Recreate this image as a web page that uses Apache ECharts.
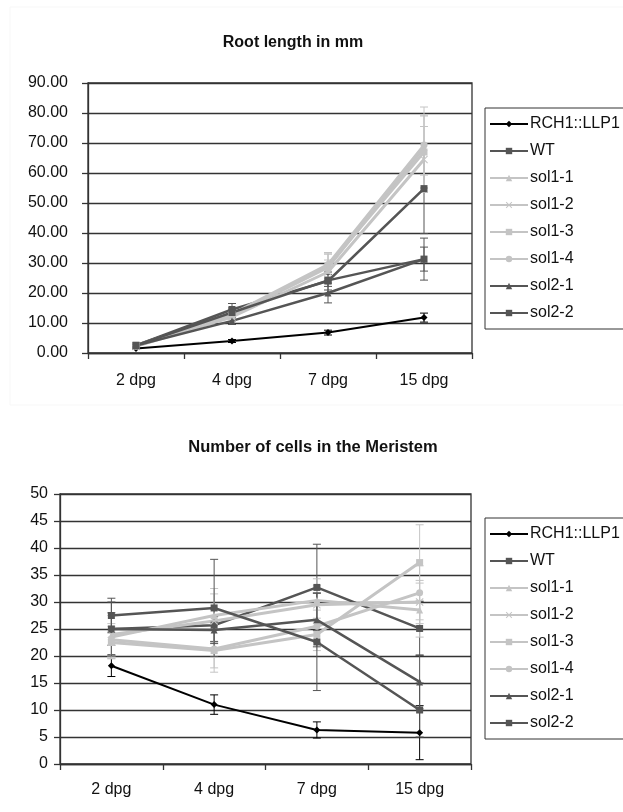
<!DOCTYPE html>
<html>
<head>
<meta charset="utf-8">
<script src="https://cdn.jsdelivr.net/npm/echarts@6/dist/echarts.min.js"></script>
<style>
html,body{margin:0;padding:0;background:#fff;}
#c{width:623px;height:812px;}
</style>
</head>
<body>
<div id="c"></div>
<script>
// ---------- data ----------
const categories = ['2 dpg', '4 dpg', '7 dpg', '15 dpg'];
const seriesNames = ['RCH1::LLP1', 'WT', 'sol1-1', 'sol1-2', 'sol1-3', 'sol1-4', 'sol2-1', 'sol2-2'];

// Root length in mm
const rootRCH1 = [1.5, 4.0, 6.8, 11.8];
const rootWT   = [2.5, 14.5, 24.0, 54.8];
const rootSol11 = [2.3, 12.5, 28.5, 68.5];
const rootSol12 = [2.2, 12.0, 27.0, 64.5];
const rootSol13 = [2.4, 12.8, 29.0, 67.0];
const rootSol14 = [2.4, 13.0, 29.5, 69.3];
const rootSol21 = [2.5, 10.7, 20.0, 31.3];
const rootSol22 = [2.6, 13.5, 24.2, 31.3];
const rootErrRCH1 = [0.3, 0.5, 0.8, 1.5];
const rootErrWT   = [0.5, 2.0, 3.0, 15.0];
const rootErrSol11 = [0.5, 1.5, 4.5, 13.5];
const rootErrSol12 = [0.5, 1.5, 4.0, 11.0];
const rootErrSol13 = [0.5, 1.5, 4.0, 12.0];
const rootErrSol14 = [0.5, 1.5, 4.0, 10.0];
const rootErrSol21 = [0.5, 1.2, 3.3, 4.0];
const rootErrSol22 = [0.5, 1.5, 2.0, 7.0];

// Number of cells in the Meristem
const cellRCH1 = [18.2, 11.0, 6.3, 5.8];
const cellWT   = [25.0, 25.7, 32.7, 25.1];
const cellSol11 = [23.5, 27.5, 30.3, 28.5];
const cellSol12 = [24.0, 26.5, 29.5, 30.0];
const cellSol13 = [22.5, 21.0, 24.0, 37.3];
const cellSol14 = [23.0, 21.3, 25.5, 31.7];
const cellSol21 = [25.0, 24.8, 26.7, 15.2];
const cellSol22 = [27.5, 28.9, 22.6, 10.0];
const cellErrRCH1 = [2.0, 1.8, 1.5, 5.0];
const cellErrWT   = [3.0, 3.0, 8.0, 5.0];
const cellErrSol11 = [4.0, 5.0, 4.0, 5.0];
const cellErrSol12 = [4.0, 5.0, 3.5, 4.0];
const cellErrSol13 = [3.0, 4.0, 3.0, 7.0];
const cellErrSol14 = [3.0, 3.5, 3.0, 5.0];
const cellErrSol21 = [5.0, 2.5, 5.0, 5.0];
const cellErrSol22 = [3.2, 9.0, 9.0, 5.0];

// tick labels
const rootTicks = [0, 90, 10];
const cellTicks = [0, 50, 5];

// ---------- styles ----------
const FONT = '"Liberation Sans", Arial, sans-serif';
const DARK = '#555555';
const LIGHT = '#c4c4c4';
const styles = [
  {color: '#000000', symbol: 'diamond', size: 7, width: 2},
  {color: DARK, symbol: 'rect', size: 7, width: 2.5},
  {color: LIGHT, symbol: 'triangle', size: 7, width: 3},
  {color: LIGHT, symbol: 'path://M0,1L1,0L5,4L9,0L10,1L6,5L10,9L9,10L5,6L1,10L0,9L4,5Z', size: 8, width: 3},
  {color: LIGHT, symbol: 'rect', size: 7, width: 3},
  {color: LIGHT, symbol: 'circle', size: 7, width: 3},
  {color: DARK, symbol: 'triangle', size: 7, width: 2.5},
  {color: DARK, symbol: 'rect', size: 7, width: 2.5}
];

const rootVals = [rootRCH1, rootWT, rootSol11, rootSol12, rootSol13, rootSol14, rootSol21, rootSol22];
const rootErrs = [rootErrRCH1, rootErrWT, rootErrSol11, rootErrSol12, rootErrSol13, rootErrSol14, rootErrSol21, rootErrSol22];
const cellVals = [cellRCH1, cellWT, cellSol11, cellSol12, cellSol13, cellSol14, cellSol21, cellSol22];
const cellErrs = [cellErrRCH1, cellErrWT, cellErrSol11, cellErrSol12, cellErrSol13, cellErrSol14, cellErrSol21, cellErrSol22];

function errSeries(name, vals, errs, color, gi) {
  return {
    type: 'custom', name: name + ' err', xAxisIndex: gi, yAxisIndex: gi, z: 1,
    silent: true,
    data: vals.map((v, i) => [i, v, errs[i]]),
    renderItem: function (params, api) {
      const x = api.value(0), y = api.value(1), e = api.value(2);
      const t = api.coord([x, y + e]);
      const b = api.coord([x, y - e]);
      const hw = 4;
      const st = {stroke: color, lineWidth: 1};
      return {type: 'group', children: [
        {type: 'line', shape: {x1: t[0], y1: t[1], x2: b[0], y2: b[1]}, style: st},
        {type: 'line', shape: {x1: t[0] - hw, y1: t[1], x2: t[0] + hw, y2: t[1]}, style: st},
        {type: 'line', shape: {x1: b[0] - hw, y1: b[1], x2: b[0] + hw, y2: b[1]}, style: st}
      ]};
    }
  };
}

function lineSeries(name, vals, st, gi) {
  return {
    type: 'line', name: name, xAxisIndex: gi, yAxisIndex: gi, z: 3,
    data: vals, symbol: st.symbol, symbolSize: st.size, showSymbol: true,
    lineStyle: {color: st.color, width: st.width},
    itemStyle: {color: st.color, borderWidth: 0},
    emphasis: {disabled: true}, animation: false
  };
}

const series = [];
[[rootVals, rootErrs, 0], [cellVals, cellErrs, 1]].forEach(([vals, errs, gi]) => {
  seriesNames.forEach((n, k) => series.push(errSeries(n, vals[k], errs[k], styles[k].color, gi)));
  seriesNames.forEach((n, k) => series.push(lineSeries(n, vals[k], styles[k], gi)));
});

function xAxis(gi, margin) {
  return {
    type: 'category', gridIndex: gi, data: categories, boundaryGap: true,
    axisLine: {lineStyle: {color: '#333', width: 1.3}},
    axisTick: {show: true, inside: false, length: 6, alignWithLabel: false, lineStyle: {color: '#333', width: 1.3}},
    axisLabel: {color: '#111', fontFamily: FONT, fontSize: 16, margin: margin},
    splitLine: {show: false}
  };
}
function yAxis(gi, ticks, fmt, margin) {
  return {
    type: 'value', gridIndex: gi, min: ticks[0], max: ticks[1], interval: ticks[2],
    axisLine: {show: true, lineStyle: {color: '#333', width: 1.3}},
    axisTick: {show: true, inside: false, length: 6, lineStyle: {color: '#333', width: 1.3}},
    axisLabel: {color: '#111', fontFamily: FONT, fontSize: 16, margin: margin, formatter: fmt},
    splitLine: {show: true, lineStyle: {color: '#333', width: 1.3}}
  };
}
function legend(top) {
  return {
    orient: 'vertical', left: 485, top: top,
    data: seriesNames, itemWidth: 38, itemHeight: 8, itemGap: 11,
    textStyle: {fontFamily: FONT, fontSize: 16, color: '#111', padding: [0, 0, 0, -3]},
    borderColor: '#333', borderWidth: 1, backgroundColor: '#fff',
    padding: [8, 40, 8, 4], selectedMode: false
  };
}

const chart = echarts.init(document.getElementById('c'), null, {renderer: 'canvas'});
chart.setOption({
  animation: false,
  backgroundColor: '#fff',
  title: [
    {text: 'Root length in mm', left: 288, top: 30, textAlign: 'center',
     textStyle: {fontFamily: FONT, fontSize: 16, fontWeight: 'bold', color: '#111'}},
    {text: 'Number of cells in the Meristem', left: 308, top: 434, textAlign: 'center',
     textStyle: {fontFamily: FONT, fontSize: 16.5, fontWeight: 'bold', color: '#111'}}
  ],
  grid: [
    {left: 88, top: 83, width: 384, height: 270, show: true, borderColor: '#333', borderWidth: 1.3, backgroundColor: 'transparent'},
    {left: 60, top: 494, width: 411, height: 270, show: true, borderColor: '#333', borderWidth: 1.3, backgroundColor: 'transparent'}
  ],
  xAxis: [xAxis(0, 20), xAxis(1, 18)],
  yAxis: [yAxis(0, rootTicks, v => v.toFixed(2), 20), yAxis(1, cellTicks, v => String(v), 12)],
  legend: [legend(108), legend(518)],
  graphic: [
    {type: 'rect', shape: {x: 10, y: 7, width: 640, height: 398}, style: {fill: 'none', stroke: '#f7f7f7', lineWidth: 1}, silent: true, z: -10}
  ],
  series: series
});
</script>
</body>
</html>
